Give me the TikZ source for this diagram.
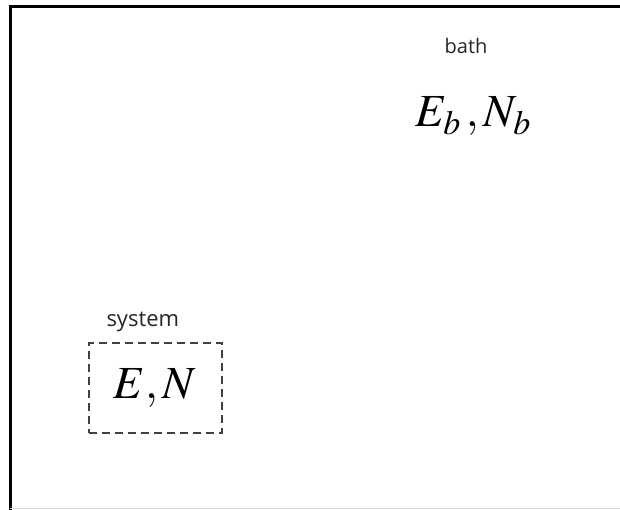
\documentclass[tikz,border=0pt]{standalone}
\usepackage{mathptmx}
\usepackage{fontspec}
\usepackage{tikz}
\usetikzlibrary{positioning}
\newfontfamily\labelfont{Open Sans}
\definecolor{framegray}{HTML}{D9D9D9}
\definecolor{dashgray}{HTML}{404040}

\begin{document}
\begin{tikzpicture}[
  x=1pt, y=-1pt,
  every node/.style={inner sep=0pt, outer sep=0pt},
  tag/.style={font=\labelfont\fontsize{20}{22}\selectfont, text=black!85},
  qty/.style={font=\fontsize{46}{50}\selectfont},
  sysbox/.style={draw=dashgray, line width=2pt, dash pattern=on 8pt off 5pt,
    minimum width=133pt, minimum height=90pt}
]
\useasboundingbox (0,0) rectangle (620,510);

% frame of the bath
\draw[line width=3pt] (8.5,7) -- (620,7);
\draw[line width=3pt] (10,5.5) -- (10,510);
\draw[framegray, line width=1.5pt] (10,508.5) -- (620,508.5);

% bath
\node[tag] (bathlabel) at (466,46) {bath};
\node[qty] (bathqty) at (473,116) {$E_b\,,N_b$};

% system
\node[sysbox] (sys) at (155,388) {};
\node[tag, font=\labelfont\fontsize{22}{24}\selectfont, above=11pt of sys.north west, anchor=south west, xshift=18pt] (syslabel) {system};
\node[qty] (sysqty) at (sys.center) {$E,N$};
\end{tikzpicture}
\end{document}
